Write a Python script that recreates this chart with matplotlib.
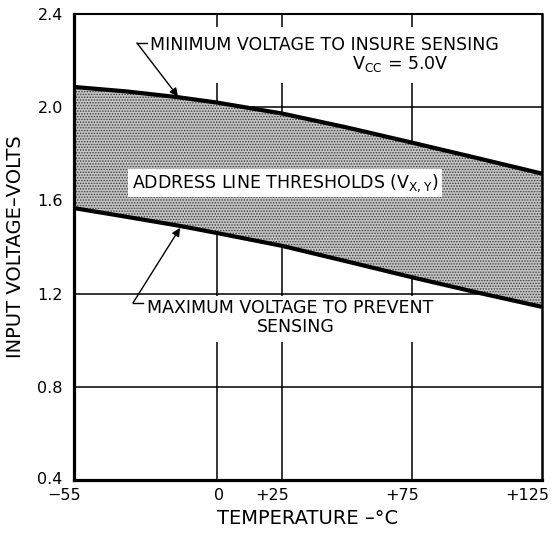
import matplotlib
matplotlib.use("Agg")
import matplotlib.pyplot as plt
import matplotlib.transforms as mtransforms
from matplotlib.patches import Rectangle

# values
temp = [-55, -35, -15, 0, 25, 50, 75, 100, 125]
v_upper = [2.087, 2.068, 2.043, 2.02, 1.973, 1.913, 1.848, 1.782, 1.715]   # min voltage to insure sensing
v_lower = [1.567, 1.53, 1.492, 1.46, 1.405, 1.338, 1.27, 1.205, 1.143]     # max voltage to prevent sensing

x_ticks = [-55, 0, 25, 75, 125]
x_labels = ["\u221255", "0", "+25", "+75", "+125"]
y_ticks = [0.4, 0.8, 1.2, 1.6, 2.0, 2.4]
y_labels = ["0.4", "0.8", "1.2", "1.6", "2.0", "2.4"]

plt.rcParams['font.family'] = ['DejaVu Sans']
plt.rcParams['hatch.linewidth'] = 0.7
plt.rcParams['hatch.color'] = '#3a3a3a'

fig = plt.figure(figsize=(5.55, 5.35), dpi=100)
ax = fig.add_axes([0.1333, 0.1028, 0.8433, 0.871])
ax.set_xlim(-55, 125)
ax.set_ylim(0.4, 2.4)

# grid
for v in [0, 25, 75]:
    ax.axvline(v, color='k', lw=1.1, zorder=1)
for v in [0.8, 1.2, 1.6, 2.0]:
    ax.axhline(v, color='k', lw=1.1, zorder=1)

# white gaps in the grid behind the annotation texts
ax.add_patch(Rectangle((-29.6, 2.104), 148, 0.24, facecolor='white', edgecolor='none', zorder=2))
ax.add_patch(Rectangle((-27.5, 0.992), 146, 0.196, facecolor='white', edgecolor='none', zorder=2))

# threshold band
ax.fill_between(temp, v_lower, v_upper, facecolor='#c4c4c4', hatch='......',
                edgecolor='#3a3a3a', linewidth=0, zorder=3)
ax.plot(temp, v_upper, color='k', lw=3, zorder=4, solid_capstyle='butt')
ax.plot(temp, v_lower, color='k', lw=3, zorder=4, solid_capstyle='butt')

fs = 12.5
ax.text(-25.8, 2.267, "MINIMUM VOLTAGE TO INSURE SENSING", fontsize=fs,
        ha='left', va='center', zorder=5)
ax.text(51.9, 2.185, r"V$_{\mathregular{CC}}$ = 5.0V", fontsize=fs,
        ha='left', va='center', zorder=5)
ax.text(-32.7, 1.675, r"ADDRESS LINE THRESHOLDS (V$_{\mathregular{X,Y}}$)", fontsize=fs,
        ha='left', va='center', zorder=5,
        bbox=dict(facecolor='white', edgecolor='none', pad=2.5))
ax.text(-26.9, 1.138, "MAXIMUM VOLTAGE TO PREVENT", fontsize=fs,
        ha='left', va='center', zorder=5)
ax.text(15.4, 1.057, "SENSING", fontsize=fs, ha='left', va='center', zorder=5)

# leader lines
ax.plot([-26.9, -30.8], [2.276, 2.276], color='k', lw=1.0, zorder=5)
ax.annotate("", xy=(-15, 2.046), xytext=(-30.8, 2.276),
            arrowprops=dict(arrowstyle='-|>', color='k', lw=1.0,
                            mutation_scale=12, shrinkA=0, shrinkB=0), zorder=5)
ax.plot([-28.5, -32.3], [1.16, 1.16], color='k', lw=1.0, zorder=5)
ax.annotate("", xy=(-14.2, 1.482), xytext=(-32.3, 1.16),
            arrowprops=dict(arrowstyle='-|>', color='k', lw=1.0,
                            mutation_scale=12, shrinkA=0, shrinkB=0), zorder=5)

# axes frame
ax.spines['left'].set_linewidth(2.3)
ax.spines['bottom'].set_linewidth(2.3)
ax.spines['top'].set_linewidth(1.5)
ax.spines['right'].set_linewidth(1.8)
for s in ax.spines.values():
    s.set_zorder(6)

ax.set_xticks(x_ticks)
ax.set_xticklabels(x_labels, fontsize=11.5)
ax.set_yticks(y_ticks)
ax.set_yticklabels(y_labels, fontsize=11.5)
ax.tick_params(length=0)
ax.tick_params(axis='y', pad=8)
ax.tick_params(axis='x', pad=6)
offset = mtransforms.ScaledTranslation(7 / 100, 0, fig.dpi_scale_trans)
for lab in ax.get_xticklabels():
    lab.set_ha('right')
    lab.set_transform(lab.get_transform() + offset)
# nudge the bottom y label up a little so it clears the -55 label
bottom_lab = ax.get_yticklabels()[0]
bottom_lab.set_transform(bottom_lab.get_transform() +
                         mtransforms.ScaledTranslation(0, 2 / 100, fig.dpi_scale_trans))

ax.set_xlabel("TEMPERATURE \u2013\u00b0C", fontsize=14, labelpad=4)
ax.set_ylabel("INPUT VOLTAGE\u2013VOLTS", fontsize=14, labelpad=9)

plt.savefig("out.png", dpi=100)
